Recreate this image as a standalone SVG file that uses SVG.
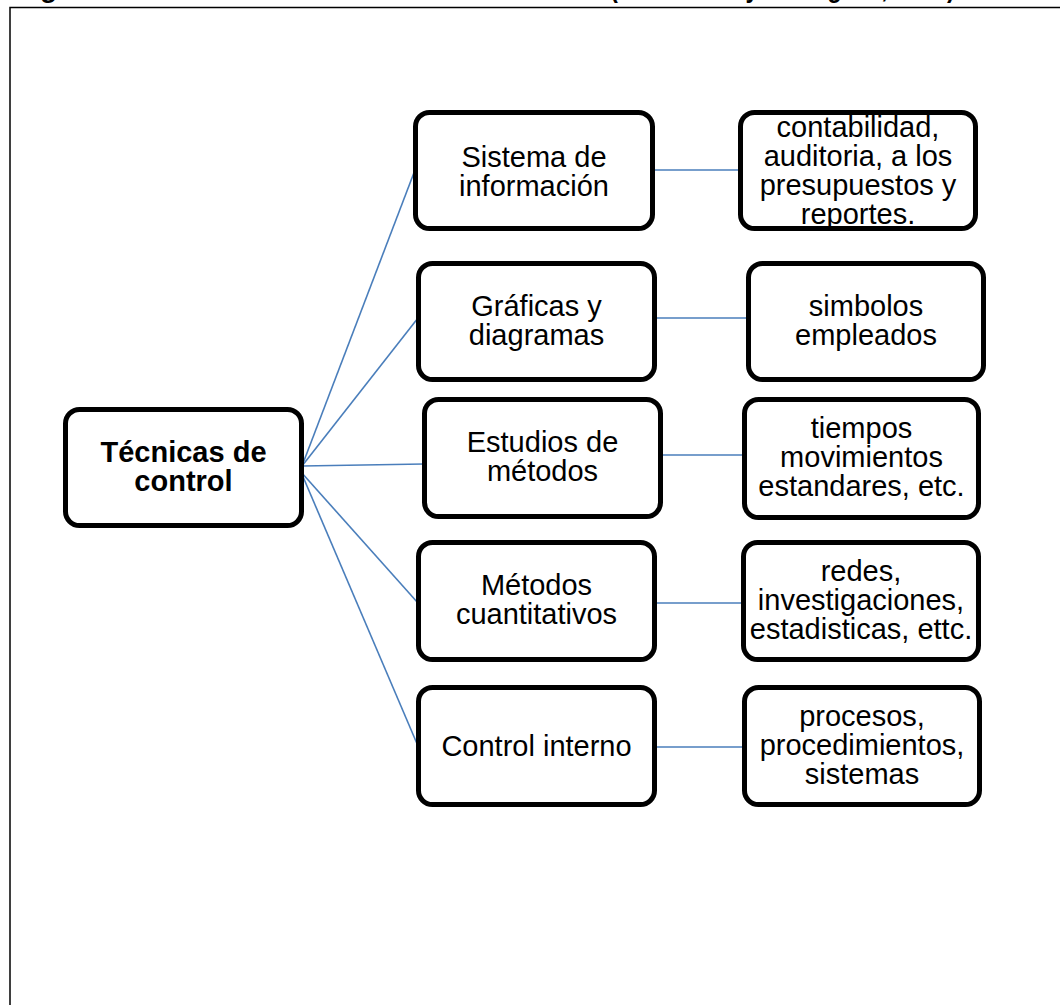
<svg xmlns="http://www.w3.org/2000/svg" width="1060" height="1005" viewBox="0 0 1060 1005">
  <style>
    .box { fill: #ffffff; stroke: #000000; stroke-width: 5; }
    .lbl { font-family: "Liberation Sans", Arial, sans-serif; font-size: 29px; fill: #000000; text-anchor: middle; }
    .hub { font-weight: bold; }
    .title { font-family: "Liberation Sans", Arial, sans-serif; font-size: 28px; font-weight: bold; fill: #000000; }
    .link { fill: none; stroke: #4a7ebb; stroke-width: 1.6; }
    .frame { fill: none; stroke: #000000; stroke-width: 1.5; }
  </style>
  <defs>
    <clipPath id="clip-b1">
      <rect x="740.5" y="112.5" width="235" height="116" rx="12"/>
    </clipPath>
  </defs>

  <rect width="1060" height="1005" fill="#ffffff"/>

  <!-- caption above the frame (cut at the page edge) -->
  <g id="caption">
    <text class="title" x="15" y="-3">Figura 1.</text>
    <text class="title" x="339" y="-3">Técnicas de control</text>
    <text class="title" x="610" y="-3" textLength="345" lengthAdjust="spacingAndGlyphs">(Hernández y Rodríguez, 1998)</text>
  </g>

  <!-- page frame -->
  <path class="frame" d="M1060,7.5 H10 V1005"/>

  <!-- connectors -->
  <g id="connectors">
    <line class="link" x1="302" y1="466" x2="415" y2="170"/>
    <line class="link" x1="302" y1="466" x2="418" y2="318"/>
    <line class="link" x1="302" y1="466" x2="424" y2="464"/>
    <line class="link" x1="301" y1="472" x2="418" y2="603"/>
    <line class="link" x1="301" y1="472" x2="418" y2="746"/>
    <line class="link" x1="654" y1="170" x2="740" y2="170"/>
    <line class="link" x1="656" y1="318" x2="748" y2="318"/>
    <line class="link" x1="663" y1="455" x2="744" y2="455"/>
    <line class="link" x1="656" y1="603" x2="743" y2="603"/>
    <line class="link" x1="656" y1="747" x2="744" y2="747"/>
  </g>

  <!-- root node -->
  <g id="tecnicas-de-control">
    <rect class="box" x="65.5" y="409.5" width="236" height="116" rx="14"/>
    <text class="lbl hub" x="183.5" y="462">Técnicas de</text>
    <text class="lbl hub" x="183.5" y="491">control</text>
  </g>

  <!-- techniques -->
  <g id="sistema-de-informacion">
    <rect class="box" x="415.5" y="112.5" width="237" height="116" rx="14"/>
    <text class="lbl" x="534" y="167">Sistema de</text>
    <text class="lbl" x="534" y="196">información</text>
  </g>
  <g id="graficas-y-diagramas">
    <rect class="box" x="418.5" y="263.5" width="236" height="116" rx="14"/>
    <text class="lbl" x="536.5" y="316">Gráficas y</text>
    <text class="lbl" x="536.5" y="345">diagramas</text>
  </g>
  <g id="estudios-de-metodos">
    <rect class="box" x="424.5" y="399.5" width="236" height="117" rx="14"/>
    <text class="lbl" x="542.5" y="452">Estudios de</text>
    <text class="lbl" x="542.5" y="481">métodos</text>
  </g>
  <g id="metodos-cuantitativos">
    <rect class="box" x="418.5" y="542.5" width="236" height="117" rx="14"/>
    <text class="lbl" x="536.5" y="595">Métodos</text>
    <text class="lbl" x="536.5" y="624">cuantitativos</text>
  </g>
  <g id="control-interno">
    <rect class="box" x="418.5" y="687.5" width="236" height="117" rx="14"/>
    <text class="lbl" x="536.5" y="756">Control interno</text>
  </g>

  <!-- details -->
  <g id="contabilidad">
    <rect class="box" x="740.5" y="112.5" width="235" height="116" rx="14"/>
    <g clip-path="url(#clip-b1)">
      <text class="lbl" x="858" y="137">contabilidad,</text>
      <text class="lbl" x="858" y="166">auditoria, a los</text>
      <text class="lbl" x="858" y="195">presupuestos y</text>
      <text class="lbl" x="858" y="224">reportes.</text>
    </g>
  </g>
  <g id="simbolos-empleados">
    <rect class="box" x="748.5" y="263.5" width="235" height="116" rx="14"/>
    <text class="lbl" x="866" y="316">simbolos</text>
    <text class="lbl" x="866" y="345">empleados</text>
  </g>
  <g id="tiempos-movimientos">
    <rect class="box" x="744.5" y="399.5" width="234" height="118" rx="14"/>
    <text class="lbl" x="861.5" y="438">tiempos</text>
    <text class="lbl" x="861.5" y="467">movimientos</text>
    <text class="lbl" x="861.5" y="496">estandares, etc.</text>
  </g>
  <g id="redes-investigaciones">
    <rect class="box" x="743.5" y="542.5" width="235" height="117" rx="14"/>
    <text class="lbl" x="861" y="581">redes,</text>
    <text class="lbl" x="861" y="610">investigaciones,</text>
    <text class="lbl" x="861" y="639">estadisticas, ettc.</text>
  </g>
  <g id="procesos-procedimientos">
    <rect class="box" x="744.5" y="687.5" width="235" height="117" rx="14"/>
    <text class="lbl" x="862" y="726">procesos,</text>
    <text class="lbl" x="862" y="755">procedimientos,</text>
    <text class="lbl" x="862" y="784">sistemas</text>
  </g>
</svg>
